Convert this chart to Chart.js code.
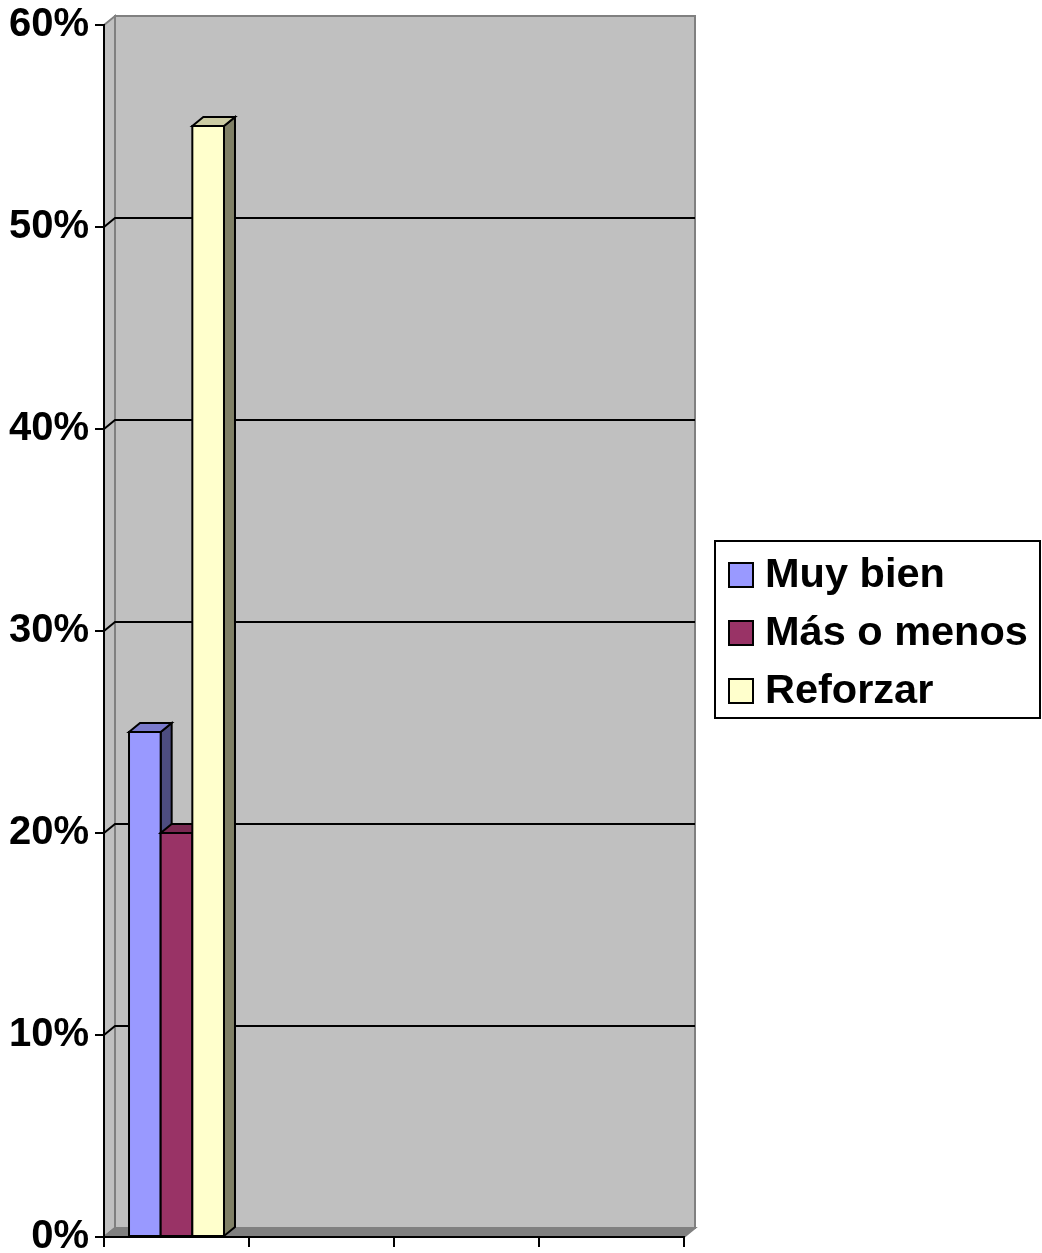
<!DOCTYPE html>
<html lang="es">
<head>
    <meta charset="UTF-8">
    <title>Resultados</title>
    <script src="https://cdn.jsdelivr.net/npm/chart.js"></script>
    <style>
        body {
            margin: 0;
            padding: 0;
            background: #ffffff;
        }
        canvas {
            display: block;
        }
    </style>
</head>
<body>
    <canvas id="chart" width="1042" height="1253"></canvas>

    <script>
        // data
        const categories = ['', '', '', ''];
        const seriesNames = ['Muy bien', 'Más o menos', 'Reforzar'];
        const muyBien = [25, null, null, null];
        const masOMenos = [20, null, null, null];
        const reforzar = [55, null, null, null];
        const yMax = 60;
        const yStep = 10;

        // colours for front / top / side of each series
        const faceColors = [
            { front: '#9999ff', top: '#7a7acc', side: '#4d4d80' },
            { front: '#993366', top: '#7a2952', side: '#4d1a33' },
            { front: '#ffffcc', top: '#cccca3', side: '#808066' }
        ];

        const DX = 11, DY = -9;   // fake depth offset
        const LEGEND_FONT = 'bold 41.5px "Liberation Sans", Arial, sans-serif';

        // back wall, side wall, floor and gridlines
        const wallPlugin = {
            id: 'wall',
            beforeDraw(chart) {
                const ctx = chart.ctx;
                const a = chart.chartArea;
                const y = chart.scales.y;
                ctx.save();
                // side wall
                ctx.fillStyle = '#c0c0c0';
                ctx.strokeStyle = '#808080';
                ctx.lineWidth = 2;
                ctx.beginPath();
                ctx.moveTo(a.left, a.top);
                ctx.lineTo(a.left + DX, a.top + DY);
                ctx.lineTo(a.left + DX, a.bottom + DY);
                ctx.lineTo(a.left, a.bottom);
                ctx.closePath();
                ctx.fill();
                ctx.stroke();
                // back wall
                ctx.fillRect(a.left + DX, a.top + DY, a.right - a.left, a.bottom - a.top);
                ctx.strokeRect(a.left + DX, a.top + DY, a.right - a.left, a.bottom - a.top);
                // floor
                ctx.fillStyle = '#808080';
                ctx.beginPath();
                ctx.moveTo(a.left, a.bottom);
                ctx.lineTo(a.left + DX, a.bottom + DY);
                ctx.lineTo(a.right + DX, a.bottom + DY);
                ctx.lineTo(a.right, a.bottom);
                ctx.closePath();
                ctx.fill();
                ctx.stroke();
                // gridlines
                ctx.strokeStyle = '#000000';
                ctx.lineWidth = 2;
                for (let v = yStep; v < yMax; v += yStep) {
                    const py = y.getPixelForValue(v);
                    ctx.beginPath();
                    ctx.moveTo(a.left, py);
                    ctx.lineTo(a.left + DX, py + DY);
                    ctx.lineTo(a.right + DX, py + DY);
                    ctx.stroke();
                }
                ctx.restore();
            }
        };

        // top and side faces, left to right, then the front again
        const boxPlugin = {
            id: 'boxes',
            afterDatasetsDraw(chart) {
                const ctx = chart.ctx;
                ctx.save();
                ctx.lineWidth = 2;
                ctx.strokeStyle = '#000000';
                ctx.lineJoin = 'miter';
                for (let j = 0; j < categories.length; j++) {
                    chart.data.datasets.forEach((ds, i) => {
                        const bar = chart.getDatasetMeta(i).data[j];
                        if (!bar || bar.skip || ds.data[j] == null) return;
                        const p = bar.getProps(['x', 'y', 'base', 'width'], true);
                        const L = p.x - p.width / 2, R = p.x + p.width / 2;
                        // side
                        ctx.fillStyle = faceColors[i].side;
                        ctx.beginPath();
                        ctx.moveTo(R, p.y);
                        ctx.lineTo(R + DX, p.y + DY);
                        ctx.lineTo(R + DX, p.base + DY);
                        ctx.lineTo(R, p.base);
                        ctx.closePath();
                        ctx.fill();
                        ctx.stroke();
                        // top
                        ctx.fillStyle = faceColors[i].top;
                        ctx.beginPath();
                        ctx.moveTo(L, p.y);
                        ctx.lineTo(L + DX, p.y + DY);
                        ctx.lineTo(R + DX, p.y + DY);
                        ctx.lineTo(R, p.y);
                        ctx.closePath();
                        ctx.fill();
                        ctx.stroke();
                        // front
                        ctx.fillStyle = faceColors[i].front;
                        ctx.fillRect(L, p.y, p.width, p.base - p.y);
                        ctx.strokeRect(L, p.y, p.width, p.base - p.y);
                    });
                }
                ctx.restore();
            }
        };

        // boxed legend on the right
        const legendPlugin = {
            id: 'boxLegend',
            afterDraw(chart) {
                const ctx = chart.ctx;
                const bx = 715, by = 541, bw = 325, bh = 177;
                ctx.save();
                ctx.fillStyle = '#ffffff';
                ctx.fillRect(bx, by, bw, bh);
                ctx.strokeStyle = '#000000';
                ctx.lineWidth = 2;
                ctx.strokeRect(bx, by, bw, bh);
                ctx.font = LEGEND_FONT;
                ctx.textBaseline = 'middle';
                chart.data.datasets.forEach((ds, i) => {
                    const cy = 575 + i * 58;
                    ctx.fillStyle = faceColors[i].front;
                    ctx.fillRect(729, cy - 12, 24, 24);
                    ctx.lineWidth = 2;
                    ctx.strokeRect(729, cy - 12, 24, 24);
                    ctx.fillStyle = '#000000';
                    ctx.fillText(ds.label, 765, cy + 1);
                });
                ctx.restore();
            }
        };

        const ctx = document.getElementById('chart').getContext('2d');

        new Chart(ctx, {
            type: 'bar',
            data: {
                labels: categories,
                datasets: [
                    { label: seriesNames[0], data: muyBien },
                    { label: seriesNames[1], data: masOMenos },
                    { label: seriesNames[2], data: reforzar }
                ].map((d, i) => Object.assign(d, {
                    backgroundColor: faceColors[i].front,
                    borderColor: '#000000',
                    borderWidth: 2,
                    barPercentage: 1.0,
                    categoryPercentage: 0.655
                }))
            },
            options: {
                responsive: false,
                animation: false,
                layout: {
                    padding: { top: 25, right: 358, bottom: 0, left: 0 }
                },
                plugins: {
                    legend: { display: false },
                    tooltip: { enabled: false }
                },
                scales: {
                    x: {
                        grid: {
                            drawOnChartArea: false,
                            drawTicks: true,
                            tickLength: 10,
                            color: '#000000',
                            lineWidth: 2
                        },
                        border: { color: '#000000', width: 2 },
                        ticks: { display: false },
                        afterFit(scale) {
                            scale.height = 16;
                            scale.paddingLeft = 0;
                            scale.paddingRight = 0;
                        }
                    },
                    y: {
                        min: 0,
                        max: yMax,
                        ticks: {
                            stepSize: yStep,
                            padding: 6,
                            color: '#000000',
                            font: { family: '"Liberation Sans", Arial, sans-serif', size: 40, weight: 'bold', lineHeight: 0.7 },
                            callback: v => v + '%'
                        },
                        grid: {
                            drawOnChartArea: false,
                            drawTicks: true,
                            tickLength: 9,
                            color: '#000000',
                            lineWidth: 2
                        },
                        border: { color: '#000000', width: 2 },
                        afterFit(scale) {
                            scale.width = 104;
                            scale.paddingTop = 0;
                            scale.paddingBottom = 0;
                        }
                    }
                }
            },
            plugins: [wallPlugin, boxPlugin, legendPlugin]
        });
    </script>
</body>
</html>
